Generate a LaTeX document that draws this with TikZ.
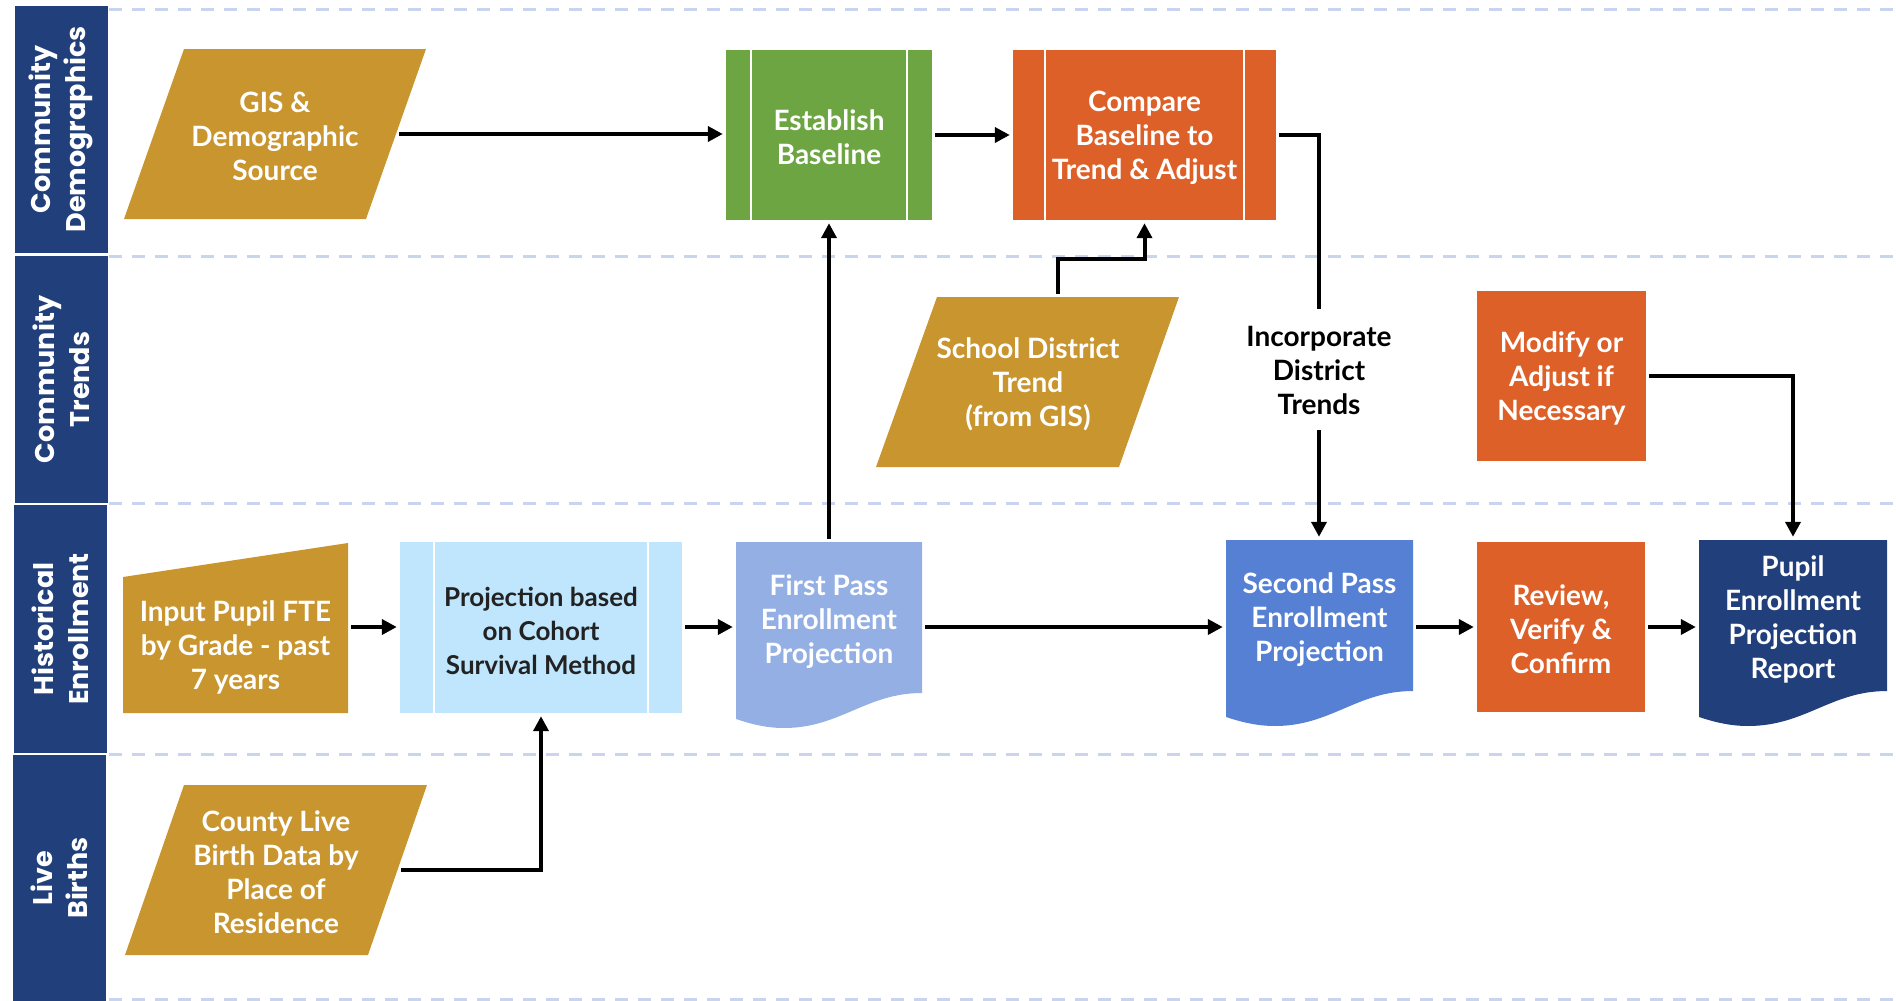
\documentclass[tikz,border=0pt]{standalone}
\usepackage{fontspec}
\setmainfont{Lato}
\newfontfamily\lanefont{Poppins}
\usetikzlibrary{arrows.meta,calc}
\definecolor{lanec}{RGB}{33,63,122}
\definecolor{dashc}{RGB}{201,213,240}
\definecolor{goldc}{RGB}{200,149,46}
\definecolor{greenc}{RGB}{109,165,67}
\definecolor{orangec}{RGB}{221,96,40}
\definecolor{lightbluec}{RGB}{191,230,252}
\definecolor{fpbluec}{RGB}{148,175,227}
\definecolor{spbluec}{RGB}{86,128,212}
\definecolor{navyc}{RGB}{33,63,123}
\definecolor{darktext}{RGB}{34,34,34}
\newcommand\mytopstrut{\rule{0pt}{26pt}}
\begin{document}
\begin{tikzpicture}[x=1pt,y=-1pt,
  box/.style={font=\bfseries\fontsize{28}{34}\selectfont, text=white, align=center, inner sep=0pt},
  lanebar/.style={rotate=90, fill=lanec, text=white, align=center, inner sep=0pt,
    minimum height=93pt, font=\lanefont\bfseries\fontsize{27}{35}\selectfont},
  lanedash/.style={draw=dashc, line width=3pt, dash pattern=on 13pt off 10pt},
  sub/.style={path picture={
    \draw[white, line width=2pt] ([xshift=#1]path picture bounding box.north west) -- ([xshift=#1]path picture bounding box.south west);
    \draw[white, line width=2pt] ([xshift=-#1]path picture bounding box.north east) -- ([xshift=-#1]path picture bounding box.south east);}},
  arr/.style={draw=black, line width=4pt, -{Triangle[length=15pt,width=15pt]}, shorten <=3pt, shorten >=3pt},
  plainline/.style={draw=black, line width=4pt, shorten <=3pt}
]
\useasboundingbox (0,0) rectangle (1896,1001);

% swimlanes
\node[lanebar, minimum width=247pt] (lane1) at (61,129.5) {Community\\Demographics};
\node[lanebar, minimum width=247pt] (lane2) at (61,379.5) {Community\\Trends};
\node[lanebar, minimum width=248pt] (lane3) at (60,629) {Historical\\Enrollment};
\node[lanebar, minimum width=246pt] (lane4) at (59.5,878) {Live\\Births};
\foreach \yy in {9,256,503,754,999} \draw[lanedash] (109,\yy) -- (1896,\yy);

% shape fills
\fill[goldc] (184,49) -- (426,49) -- (366,219) -- (124,219) -- cycle;
\fill[goldc] (937,297) -- (1179,297) -- (1119,467) -- (876,467) -- cycle;
\fill[goldc] (184,785) -- (427,785) -- (368,955) -- (125,955) -- cycle;
\fill[goldc] (123,577) -- (348,543) -- (348,713) -- (123,713) -- cycle;
\fill[fpbluec] (736,542) -- (922,542) -- (922,693) .. controls (866,693) and (840,728) .. (784,728) .. controls (766,728) and (751,724) .. (736,719) -- cycle;
\fill[spbluec] (1226,540) -- (1413,540) -- (1413,691) .. controls (1357,691) and (1331,726) .. (1275,726) .. controls (1257,726) and (1241,722) .. (1226,717) -- cycle;
\fill[navyc] (1699,540) -- (1887,540) -- (1887,691) .. controls (1831,691) and (1805,726) .. (1748,726) .. controls (1730,726) and (1714,722) .. (1699,717) -- cycle;

% nodes
\node[box, minimum width=242pt, minimum height=170pt] (gis) at (275,134) {\mytopstrut GIS \&\\Demographic\\Source};
\node[box, fill=greenc, minimum width=206pt, minimum height=170pt, sub=25pt] (est) at (829,135) {\mytopstrut Establish\\Baseline};
\node[box, fill=orangec, minimum width=263pt, minimum height=170pt, sub=32pt] (cmp) at (1144.5,135) {\mytopstrut Compare\\Baseline to\\Trend \& Adjust};
\node[box, minimum width=242pt, minimum height=170pt] (sch) at (1028,382) {\mytopstrut School District\\Trend\\(from GIS)};
\node[box, text=black, minimum height=118pt] (inc) at (1319,368) {\mytopstrut Incorporate\\District\\Trends};
\node[box, fill=orangec, minimum width=169pt, minimum height=170pt] (mod) at (1561.5,376) {\mytopstrut Modify or\\Adjust if\\Necessary};
\node[box, minimum width=225pt, minimum height=136pt] (inp) at (235.5,645) {\mytopstrut Input Pupil FTE\\by Grade - past\\7 years};
\node[box, fill=lightbluec, text=darktext, minimum width=282pt, minimum height=171pt, sub=34pt, font=\bfseries\fontsize{26}{34}\selectfont] (proj) at (541,627.5) {\mytopstrut Projection based\\on Cohort\\Survival Method};
\node[box, minimum width=186pt, minimum height=154pt] (fp) at (829,619) {\mytopstrut First Pass\\Enrollment\\Projection};
\node[box, minimum width=187pt, minimum height=154pt] (sp) at (1319.5,617) {\mytopstrut Second Pass\\Enrollment\\Projection};
\node[box, fill=orangec, minimum width=168pt, minimum height=170pt] (rev) at (1561,627) {\mytopstrut Review,\\Verify \&\\Confirm};
\node[box, minimum width=188pt, minimum height=154pt] (pup) at (1793,617) {\mytopstrut Pupil\\Enrollment\\Projection\\Report};
\node[box, minimum width=243pt, minimum height=170pt] (cty) at (276,870) {\mytopstrut County Live\\Birth Data by\\Place of\\Residence};
\coordinate (row) at (0,627);

% connectors
\draw[arr] (gis.east) -- (gis.east -| est.west);
\draw[arr] (est.east) -- (cmp.west);
\draw[plainline] (cmp.east) -| (inc.north);
\draw[arr] (inc.south) -- (inc.south |- sp.north);
\draw[arr] ([xshift=30pt]sch.north) -- ++(0,-38) -| (cmp.south);
\draw[arr] (fp.north) -- (est.south);
\draw[arr] (inp.east |- row) -- (proj.west |- row);
\draw[arr] (cty.east) -| (proj.south);
\draw[arr] (proj.east |- row) -- (fp.west |- row);
\draw[arr] (fp.east |- row) -- (sp.west |- row);
\draw[arr] (sp.east |- row) -- (rev.west |- row);
\draw[arr] (rev.east |- row) -- (pup.west |- row);
\draw[arr] (mod.east) -| (pup.north);
\end{tikzpicture}
\end{document}
